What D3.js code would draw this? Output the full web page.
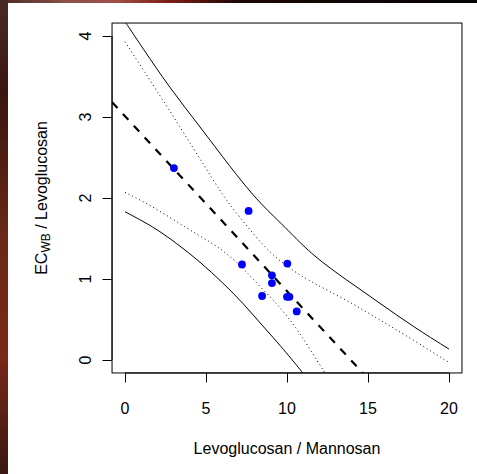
<!DOCTYPE html>
<html>
<head>
<meta charset="utf-8">
<script src="https://cdn.jsdelivr.net/npm/d3@7"></script>
<style>
  html, body { margin: 0; padding: 0; background: #fff; }
  svg { display: block; }
  text { font-family: "Liberation Sans", Arial, Helvetica, sans-serif; fill: #000; }
</style>
</head>
<body>
<svg id="chart" width="477" height="474"></svg>
<script>
// ---- data ----
const pointsX = [3.02, 7.63, 10.02, 7.22, 9.07, 9.07, 8.46, 10.0, 10.15, 10.6];
const pointsY = [2.37, 1.84, 1.19, 1.18, 1.045, 0.95, 0.79, 0.78, 0.78, 0.60];

const fitIntercept = 3.01;
const fitSlope = -0.216;

const upperPredX = [-0.05, 0.105, 1.03, 2.78, 4.63, 6.48, 8.13, 9.57, 10.19, 11.62, 13.69, 15.74, 17.8, 20.0];
const upperPredY = [4.19, 4.148, 3.868, 3.354, 2.88, 2.386, 1.975, 1.70, 1.575, 1.285, 0.985, 0.70, 0.41, 0.135];

const upperConfX = [0, 1.13, 2.67, 4.22, 5.45, 6.17, 6.9, 8.54, 9.98, 11.62, 13.69, 15.74, 17.8, 20.0];
const upperConfY = [3.93, 3.58, 3.107, 2.614, 2.22, 1.996, 1.81, 1.40, 1.15, 0.947, 0.74, 0.494, 0.247, -0.03];

const lowerConfX = [0, 1.75, 3.81, 5.25, 6.28, 7.3, 8.33, 9.36, 10.19, 10.8, 12.35, 12.5];
const lowerConfY = [2.07, 1.893, 1.626, 1.46, 1.317, 1.132, 0.905, 0.70, 0.494, 0.33, -0.164, -0.21];

const lowerPredX = [0, 1.75, 3.19, 4.63, 6.07, 7.3, 8.54, 9.57, 11.0, 11.2];
const lowerPredY = [1.83, 1.646, 1.44, 1.214, 0.947, 0.70, 0.41, 0.185, -0.164, -0.22];

const xTicks = [0, 5, 10, 15, 20];
const yTicks = [0, 1, 2, 3, 4];
const xLabel = "Levoglucosan / Mannosan";
const yLabelMain = "EC";
const yLabelSub = "WB";
const yLabelRest = " / Levoglucosan";

// ---- drawing ----
const svg = d3.select("#chart");
const W = 477, H = 474;

// decorative background strips
const defs = svg.append("defs");
const gTop = defs.append("linearGradient").attr("id", "gTop").attr("x1", "0").attr("x2", "1").attr("y1", "0").attr("y2", "0");
gTop.append("stop").attr("offset", "0").attr("stop-color", "#4a2a26");
gTop.append("stop").attr("offset", "0.14").attr("stop-color", "#8a5048");
gTop.append("stop").attr("offset", "0.24").attr("stop-color", "#a05048");
gTop.append("stop").attr("offset", "0.36").attr("stop-color", "#7a1c14");
gTop.append("stop").attr("offset", "0.5").attr("stop-color", "#1a0806");
gTop.append("stop").attr("offset", "1").attr("stop-color", "#050303");
const gLeft = defs.append("linearGradient").attr("id", "gLeft").attr("x1", "0").attr("x2", "0").attr("y1", "0").attr("y2", "1");
gLeft.append("stop").attr("offset", "0").attr("stop-color", "#4a2a24");
gLeft.append("stop").attr("offset", "0.2").attr("stop-color", "#3a1610");
gLeft.append("stop").attr("offset", "0.5").attr("stop-color", "#6a2816");
gLeft.append("stop").attr("offset", "0.75").attr("stop-color", "#7a2818");
gLeft.append("stop").attr("offset", "1").attr("stop-color", "#3a1812");

svg.append("rect").attr("x", 0).attr("y", 0).attr("width", W).attr("height", 3).attr("fill", "url(#gTop)");
svg.append("rect").attr("x", 0).attr("y", 0).attr("width", 8).attr("height", H).attr("fill", "url(#gLeft)");

const x = d3.scaleLinear().domain([-0.8, 20.8]).range([112.04, 461.96]);
const y = d3.scaleLinear().domain([-0.16, 4.16]).range([372.96, 23.04]);

defs.append("clipPath").attr("id", "plotClip")
  .append("rect")
  .attr("x", x(-0.8)).attr("y", y(4.16))
  .attr("width", x(20.8) - x(-0.8)).attr("height", y(-0.16) - y(4.16));

const plot = svg.append("g").attr("clip-path", "url(#plotClip)");

const line = d3.line().x(d => x(d[0])).y(d => y(d[1])).curve(d3.curveBasis);
const zip = (a, b) => a.map((v, i) => [v, b[i]]);

// prediction bands (solid)
[[upperPredX, upperPredY], [lowerPredX, lowerPredY]].forEach(([xs, ys]) => {
  plot.append("path").attr("d", line(zip(xs, ys)))
    .attr("fill", "none").attr("stroke", "#000").attr("stroke-width", 1);
});
// confidence bands (dotted)
[[upperConfX, upperConfY], [lowerConfX, lowerConfY]].forEach(([xs, ys]) => {
  plot.append("path").attr("d", line(zip(xs, ys)))
    .attr("fill", "none").attr("stroke", "#000").attr("stroke-width", 1)
    .attr("stroke-dasharray", "1,3");
});
// fitted line (dashed)
const xd = x.domain();
plot.append("line")
  .attr("x1", x(xd[0])).attr("y1", y(fitIntercept + fitSlope * xd[0]))
  .attr("x2", x(xd[1])).attr("y2", y(fitIntercept + fitSlope * xd[1]))
  .attr("stroke", "#000").attr("stroke-width", 2.2).attr("stroke-dasharray", "8,8");

// points
plot.selectAll("circle.pt").data(zip(pointsX, pointsY)).enter()
  .append("circle").attr("class", "pt")
  .attr("cx", d => x(d[0])).attr("cy", d => y(d[1])).attr("r", 3.9)
  .attr("fill", "#0000ff");

// box
svg.append("rect")
  .attr("x", x(-0.8)).attr("y", y(4.16))
  .attr("width", x(20.8) - x(-0.8)).attr("height", y(-0.16) - y(4.16))
  .attr("fill", "none").attr("stroke", "#000").attr("stroke-width", 1);

// axes
const xAxis = d3.axisBottom(x).tickValues(xTicks).tickSize(9.5).tickPadding(0).tickFormat(d3.format("d"));
const gx = svg.append("g").attr("transform", `translate(0,${y(-0.16)})`).call(xAxis);
gx.select(".domain").attr("d", `M${x(xTicks[0])},0H${x(xTicks[xTicks.length - 1])}`);
gx.selectAll("text").remove();
gx.selectAll("line").attr("stroke", "#000");
svg.append("g").selectAll("text").data(xTicks).enter().append("text")
  .attr("x", d => x(d)).attr("y", 414).attr("text-anchor", "middle")
  .attr("font-size", 16).text(d => d);

const yAxis = d3.axisLeft(y).tickValues(yTicks).tickSize(9.5).tickPadding(0).tickFormat(d3.format("d"));
const gy = svg.append("g").attr("transform", `translate(${x(-0.8)},0)`).call(yAxis);
gy.select(".domain").attr("d", `M0,${y(yTicks[0])}V${y(yTicks[yTicks.length - 1])}`);
gy.selectAll("text").remove();
gy.selectAll("line").attr("stroke", "#000");
svg.append("g").selectAll("text").data(yTicks).enter().append("text")
  .attr("transform", d => `translate(91,${y(d)}) rotate(-90)`)
  .attr("text-anchor", "middle").attr("font-size", 16).text(d => d);

// titles
svg.append("text").attr("x", (x(-0.8) + x(20.8)) / 2).attr("y", 453.5)
  .attr("text-anchor", "middle").attr("font-size", 16).text(xLabel);

const yt = svg.append("text")
  .attr("transform", `translate(46.5,${(y(-0.16) + y(4.16)) / 2}) rotate(-90)`)
  .attr("text-anchor", "middle").attr("font-size", 16);
yt.append("tspan").text(yLabelMain);
yt.append("tspan").attr("font-size", 12).attr("dy", 3.5).text(yLabelSub);
yt.append("tspan").attr("dy", -3.5).text(yLabelRest);
</script>
</body>
</html>
